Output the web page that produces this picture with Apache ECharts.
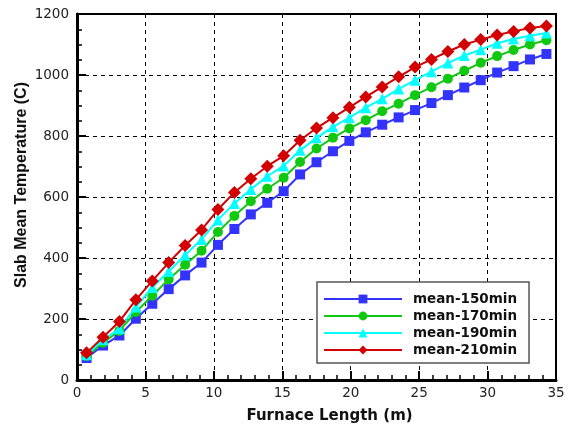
<!DOCTYPE html>
<html><head><meta charset="utf-8">
<script src="https://cdn.jsdelivr.net/npm/echarts@6/dist/echarts.min.js"></script>
<style>html,body{margin:0;padding:0;background:#fff}#c{width:571px;height:428px}</style>
</head><body><div id="c"></div>
<script>
var xPositions = [0.7,1.9,3.1,4.3,5.5,6.7,7.9,9.1,10.3,11.5,12.7,13.9,15.1,16.3,17.5,18.7,19.9,21.1,22.3,23.5,24.7,25.9,27.1,28.3,29.5,30.7,31.9,33.1,34.3];
var mean150 = [72,113,146,201,250,298,343,385,443,495,543,581,619,674,714,750,784,812,837,861,885,908,934,959,983,1008,1029,1051,1069];
var mean170 = [79,122,161,223,276,330,378,424,485,538,586,627,663,715,759,794,825,852,881,906,934,960,988,1014,1040,1062,1082,1100,1114];
var mean190 = [83,132,168,239,303,356,410,461,525,579,625,668,702,753,794,830,860,893,922,954,983,1011,1039,1064,1083,1104,1118,1129,1138];
var mean210 = [89,140,192,263,325,385,441,492,559,615,660,701,735,786,826,860,894,928,961,994,1026,1051,1077,1100,1116,1131,1143,1154,1161];
var seriesNames = ['mean-150min','mean-170min','mean-190min','mean-210min'];
var xTitle = 'Furnace Length (m)';
var yTitle = 'Slab Mean Temperature (C)';

function pairs(v){ return v.map(function(y,i){ return [xPositions[i], y]; }); }
var colors = ['#3333ff','#11c811','#00ffff','#d20000'];
var symbols = ['rect','circle','triangle','diamond'];
var sizes = [10,10,11,13];
var vals = [mean150, mean170, mean190, mean210];

var chart = echarts.init(document.getElementById('c'), null, {renderer:'canvas'});
chart.setOption({
  animation:false,
  backgroundColor:'#fff',
  grid:{left:77,right:15,top:14,bottom:48,outerBoundsMode:'none',show:true,borderColor:'#000',borderWidth:2,backgroundColor:'transparent'},
  legend:{
    orient:'vertical', left:317, top:282,
    padding:[10,12,6,6], itemGap:3,
    itemWidth:78, itemHeight:11,
    backgroundColor:'#fff', borderColor:'#555', borderWidth:1.5,
    data:seriesNames,
    textStyle:{fontFamily:'DejaVu Sans', fontWeight:'bold', fontSize:13.5, color:'#111', padding:[0,0,0,6]}
  },
  xAxis:{
    type:'value', min:0, max:35, interval:5,
    name:xTitle, nameLocation:'middle', nameGap:29, nameMoveOverlap:false,
    nameTextStyle:{fontFamily:'DejaVu Sans', fontWeight:'bold', fontSize:15, color:'#111', padding:[0,0,0,26]},
    axisLine:{show:true, onZero:false, lineStyle:{color:'#000', width:3}},
    axisTick:{show:true, inside:true, length:9, lineStyle:{color:'#000', width:2}},
    minorTick:{show:true, splitNumber:5, length:5, lineStyle:{color:'#000', width:1.5}},
    axisLabel:{margin:6, fontFamily:'DejaVu Sans', fontSize:13.5, color:'#222'},
    splitLine:{show:true, lineStyle:{color:'#000', type:[4,4], width:1}}
  },
  yAxis:{
    type:'value', min:0, max:1200, interval:200,
    name:yTitle, nameLocation:'middle', nameGap:47, nameMoveOverlap:false,
    nameTextStyle:{fontFamily:'Liberation Sans', fontWeight:'bold', fontSize:16, color:'#111', padding:[0,0,0,24]},
    axisLine:{show:true, onZero:false, lineStyle:{color:'#000', width:3}},
    axisTick:{show:true, inside:true, length:9, lineStyle:{color:'#000', width:2}},
    minorTick:{show:true, splitNumber:4, length:5, lineStyle:{color:'#000', width:1.5}},
    axisLabel:{margin:8, fontFamily:'DejaVu Sans', fontSize:13.5, color:'#222', formatter:function(v){return String(v);}},
    splitLine:{show:true, lineStyle:{color:'#000', type:[4,4], width:1}}
  },
  series: seriesNames.map(function(n,k){
    return {
      name:n, type:'line', data:pairs(vals[k]),
      symbol:symbols[k], symbolSize:sizes[k],
      itemStyle:{color:colors[k]},
      lineStyle:{color:colors[k], width:2},
      z:2+k
    };
  })
});
</script>
</body></html>
